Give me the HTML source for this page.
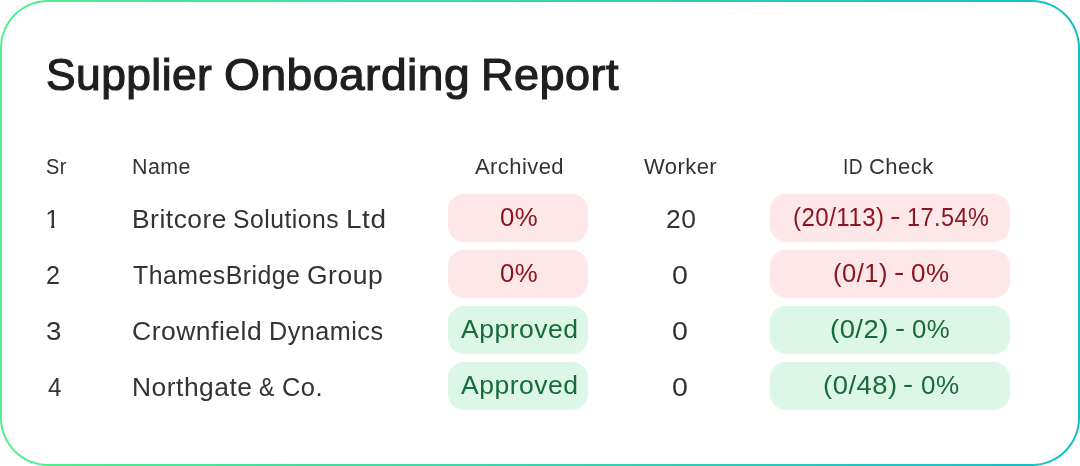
<!DOCTYPE html>
<html lang="en">
<head>
<meta charset="utf-8">
<title>Supplier Onboarding Report</title>
<style>
  html, body { margin: 0; padding: 0; background: #fff; }
  body { width: 1080px; height: 466px; overflow: hidden; position: relative;
         font-family: "Liberation Sans", sans-serif; color: #333; }
  .card { position: absolute; left: 0; top: 0; width: 1080px; height: 466px; box-sizing: border-box;
          border: 2px solid transparent; border-radius: 48px;
          background: linear-gradient(#fff, #fff) padding-box,
                      linear-gradient(90deg, #52ee8f 0%, #12bec8 100%) border-box; }
  h1 { margin: 0; font-size: 44px; line-height: 52px; font-weight: 400; color: #1f1f1f;
       -webkit-text-stroke: 1.15px #1f1f1f; }
  .content { position: absolute; left: 0; top: 0; width: 1080px; height: 466px; }
  .w { position: absolute; white-space: nowrap; transform-origin: 0 50%; display: block; }
  .head { font-size: 22.4px; line-height: 26px; }
  .row { font-size: 25.6px; line-height: 30px; }
  .pill { position: absolute; height: 48px; border-radius: 16px; }
  .red { color: #8c1520; } .red .pill { background: #fee7e9; }
  .grn { color: #186a3b; } .grn .pill { background: #dcf7e8; }
  .pa { left: 448px; width: 140px; }
  .pi { left: 770px; width: 240px; }
</style>
</head>
<body>
<div class="card"></div>
<div class="content">
<h1><span class="w" style="left:46.29px;top:49.00px;letter-spacing:0.450px;transform:scaleX(1.0076);">Supplier</span> <span class="w" style="left:223.65px;top:49.00px;letter-spacing:0.450px;transform:scaleX(1.0500);">Onboarding</span> <span class="w" style="left:481.43px;top:49.00px;letter-spacing:0.450px;transform:scaleX(1.0238);">Report</span></h1>
<div class="head"><span class="w" style="left:45.91px;top:154.00px;letter-spacing:0.438px;transform:scaleX(0.8910);">Sr</span> <span class="w" style="left:132.34px;top:154.00px;letter-spacing:0.438px;transform:scaleX(0.9560);">Name</span> <span class="w" style="left:474.70px;top:154.00px;letter-spacing:0.438px;transform:scaleX(0.9825);">Archived</span> <span class="w" style="left:644.30px;top:154.00px;letter-spacing:0.438px;transform:scaleX(0.9826);">Worker</span> <span class="w" style="left:843.29px;top:154.00px;letter-spacing:0.438px;transform:scaleX(0.8563);">ID</span> <span class="w" style="left:869.02px;top:154.00px;letter-spacing:0.438px;transform:scaleX(0.9846);">Check</span></div>
<div class="row">
  <span class="w" style="left:45.25px;top:204.00px;clip-path:polygon(0 0,9.1px 0,9.1px 100%,5.9px 100%,5.9px 55%,0 55%);">1</span> <span class="w" style="left:131.69px;top:204.00px;letter-spacing:0.500px;transform:scaleX(1.0311);">Britcore</span> <span class="w" style="left:232.78px;top:204.00px;letter-spacing:0.500px;transform:scaleX(0.9653);">Solutions</span> <span class="w" style="left:345.82px;top:204.00px;letter-spacing:0.500px;transform:scaleX(1.0909);">Ltd</span>
  <div class="red"><div class="pill pa" style="top:194px"></div><span class="w" style="left:499.74px;top:202.00px;letter-spacing:0.500px;transform:scaleX(1.0070);">0%</span></div>
  <span class="w" style="left:665.77px;top:204.00px;letter-spacing:0.500px;transform:scaleX(1.0327);">20</span>
  <div class="red"><div class="pill pi" style="top:194px"></div><span class="w" style="left:792.86px;top:202.00px;letter-spacing:0.500px;transform:scaleX(0.9397);">(20/113)</span> <span class="w" style="left:889.76px;top:200.50px;transform:scaleX(1.2429);">-</span> <span class="w" style="left:907.07px;top:202.00px;letter-spacing:0.500px;transform:scaleX(0.9168);">17.54%</span></div>
</div>
<div class="row">
  <span class="w" style="left:46.02px;top:260.00px;transform:scaleX(0.9833);">2</span> <span class="w" style="left:133.00px;top:260.00px;letter-spacing:0.500px;transform:scaleX(0.9708);">ThamesBridge</span> <span class="w" style="left:306.97px;top:260.00px;letter-spacing:0.500px;transform:scaleX(1.0347);">Group</span>
  <div class="red"><div class="pill pa" style="top:250px"></div><span class="w" style="left:499.74px;top:258.00px;letter-spacing:0.500px;transform:scaleX(1.0070);">0%</span></div>
  <span class="w" style="left:671.88px;top:260.00px;transform:scaleX(1.1154);">0</span>
  <div class="red"><div class="pill pi" style="top:250px"></div><span class="w" style="left:832.80px;top:258.00px;letter-spacing:0.500px;transform:scaleX(0.9962);">(0/1)</span> <span class="w" style="left:893.59px;top:256.50px;transform:scaleX(1.2143);">-</span> <span class="w" style="left:910.68px;top:258.00px;letter-spacing:0.500px;transform:scaleX(1.0169);">0%</span></div>
</div>
<div class="row">
  <span class="w" style="left:45.92px;top:316.00px;transform:scaleX(1.0833);">3</span> <span class="w" style="left:131.97px;top:316.00px;letter-spacing:0.500px;transform:scaleX(1.0344);">Crownfield</span> <span class="w" style="left:268.78px;top:316.00px;letter-spacing:0.500px;transform:scaleX(0.9846);">Dynamics</span>
  <div class="grn"><div class="pill pa" style="top:306px"></div><span class="w" style="left:460.75px;top:314.00px;letter-spacing:0.500px;transform:scaleX(1.0359);">Approved</span></div>
  <span class="w" style="left:671.88px;top:316.00px;transform:scaleX(1.1154);">0</span>
  <div class="grn"><div class="pill pi" style="top:306px"></div><span class="w" style="left:830.23px;top:314.00px;letter-spacing:0.500px;transform:scaleX(1.0673);">(0/2)</span> <span class="w" style="left:894.71px;top:312.50px;transform:scaleX(1.1857);">-</span> <span class="w" style="left:912.19px;top:314.00px;letter-spacing:0.500px;transform:scaleX(1.0056);">0%</span></div>
</div>
<div class="row">
  <span class="w" style="left:47.50px;top:372.00px;transform:scaleX(0.9429);">4</span> <span class="w" style="left:131.69px;top:372.00px;letter-spacing:0.500px;transform:scaleX(1.0307);">Northgate</span> <span class="w" style="left:259.09px;top:372.00px;transform:scaleX(0.9062);">&amp;</span> <span class="w" style="left:282.01px;top:372.00px;letter-spacing:0.500px;transform:scaleX(0.9934);">Co.</span>
  <div class="grn"><div class="pill pa" style="top:362px"></div><span class="w" style="left:460.75px;top:370.00px;letter-spacing:0.500px;transform:scaleX(1.0359);">Approved</span></div>
  <span class="w" style="left:671.88px;top:372.00px;transform:scaleX(1.1154);">0</span>
  <div class="grn"><div class="pill pi" style="top:362px"></div><span class="w" style="left:823.03px;top:370.00px;letter-spacing:0.500px;transform:scaleX(1.0696);">(0/48)</span> <span class="w" style="left:903.41px;top:368.50px;transform:scaleX(1.1857);">-</span> <span class="w" style="left:920.78px;top:370.00px;letter-spacing:0.500px;transform:scaleX(1.0169);">0%</span></div>
</div>
</div>
</body>
</html>
